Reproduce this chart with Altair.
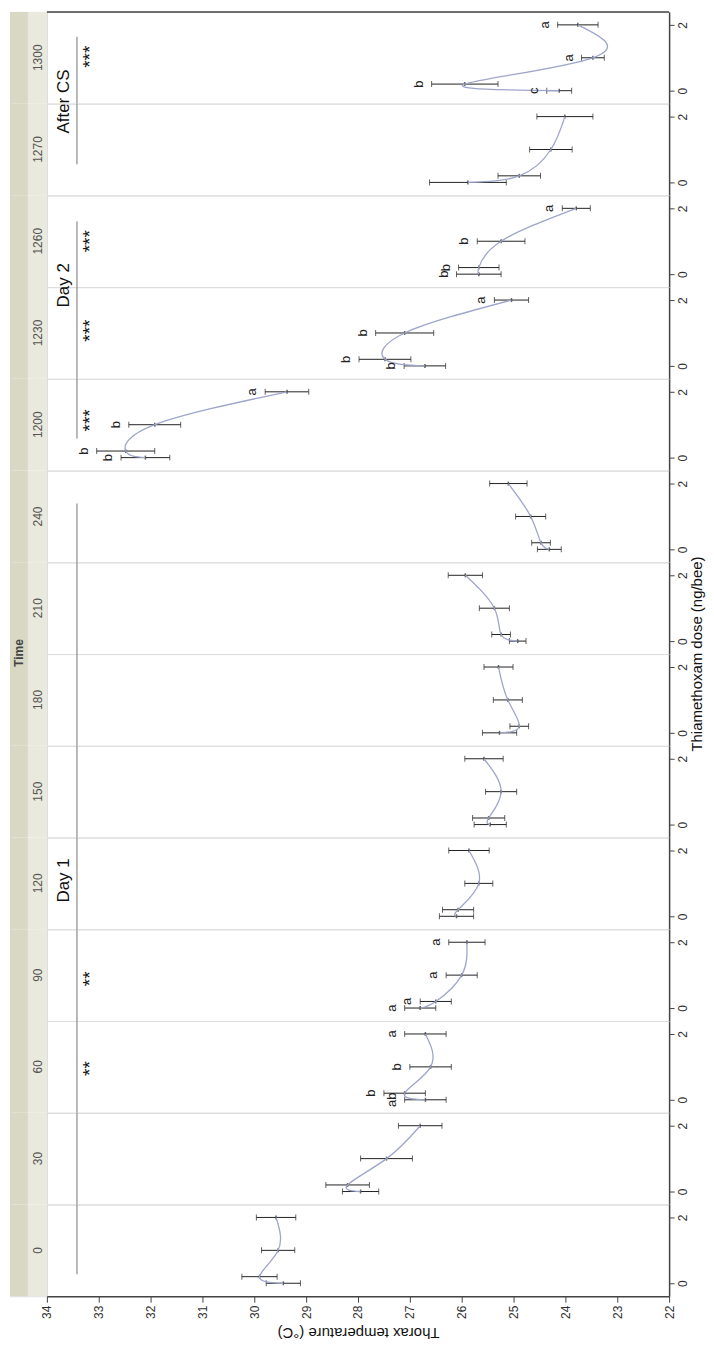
import altair as alt
import pandas as pd

# ---------------- data ----------------
times = ["0", "30", "60", "90", "120", "150", "180", "210", "240",
         "1200", "1230", "1260", "1270", "1300"]
doses = [0, 0.2, 1, 2]

means = {
    "0":    [29.44, 29.90, 29.54, 29.58],
    "30":   [27.95, 28.20, 27.45, 26.80],
    "60":   [26.70, 27.10, 26.60, 26.70],
    "90":   [26.80, 26.50, 26.00, 25.90],
    "120":  [26.10, 26.07, 25.67, 25.86],
    "150":  [25.45, 25.48, 25.24, 25.57],
    "180":  [25.27, 24.89, 25.11, 25.29],
    "210":  [24.92, 25.24, 25.37, 25.93],
    "240":  [24.31, 24.47, 24.67, 25.10],
    "1200": [32.10, 32.48, 31.92, 29.37],
    "1230": [26.71, 27.48, 27.10, 25.04],
    "1260": [25.67, 25.67, 25.24, 23.79],
    "1270": [25.88, 24.89, 24.28, 24.01],
    "1300": [24.12, 25.94, 23.47, 23.76],
}
errs = {
    "0":    [0.33, 0.34, 0.32, 0.38],
    "30":   [0.35, 0.42, 0.50, 0.42],
    "60":   [0.40, 0.40, 0.40, 0.40],
    "90":   [0.30, 0.30, 0.30, 0.35],
    "120":  [0.33, 0.30, 0.27, 0.39],
    "150":  [0.31, 0.31, 0.30, 0.37],
    "180":  [0.33, 0.18, 0.28, 0.28],
    "210":  [0.16, 0.18, 0.29, 0.33],
    "240":  [0.23, 0.18, 0.29, 0.36],
    "1200": [0.47, 0.56, 0.50, 0.42],
    "1230": [0.40, 0.50, 0.56, 0.33],
    "1260": [0.43, 0.39, 0.46, 0.27],
    "1270": [0.74, 0.41, 0.41, 0.54],
    "1300": [0.24, 0.64, 0.22, 0.39],
}
letters = {
    "60":   ["ab", "b", "b", "a"],
    "90":   ["a", "a", "a", "a"],
    "1200": ["b", "b", "b", "a"],
    "1230": ["b", "b", "b", "a"],
    "1260": ["b", "b", "b", "a"],
    "1300": ["c", "b", "a", "a"],
}

star_times = ["60", "90", "1200", "1230", "1260", "1300"]
star_texts = ["**", "**", "***", "***", "***", "***"]

day_labels = ["Day 1", "Day 2", "After CS"]
day_first = ["0", "1200", "1270"]
day_last = ["240", "1260", "1300"]

temp_ticks = [22 + 0.5 * i for i in range(25)]
dose_ticks = [0, 0.2, 1, 2]
dose_title = "Thiamethoxam dose (ng/bee)"
temp_title = "Thorax temperature (°C)"

# ---------------- annotation anchors (dose units inside a panel) ----------------
DLO, DHI = -0.394, 2.394
day_from = [0.27, 0.58, 0.55]
day_to = [1.39, 1.60, 1.64]
day_label_time = ["120", "1230", "1300"]
day_label_y = [1.09, 2.45, -0.33]
star_y = [0.95, 0.89, 1.13, 1.07, 1.00, 1.03]
LINE_T, LABEL_T, STAR_T = 33.42, 33.67, 33.16

rows = []
for t in times:
    for i, d in enumerate(doses):
        rows.append(dict(time=t, kind="pt", dose=d, mean=means[t][i],
                         err=errs[t][i], letter=letters.get(t, [""] * 4)[i]))
for k, lab in enumerate(day_labels):
    a, b = times.index(day_first[k]), times.index(day_last[k])
    for j in range(a, b + 1):
        rows.append(dict(time=times[j], kind="seg",
                         y1=day_from[k] if j == a else DLO,
                         y2=day_to[k] if j == b else DHI))
    rows.append(dict(time=day_label_time[k], kind="lab", ypos=day_label_y[k], txt=lab))
for t, s, y in zip(star_times, star_texts, star_y):
    rows.append(dict(time=t, kind="star", ypos=y, txt=s))
rows.append(dict(time="1300", kind="top"))
rows.append(dict(time="210", kind="dtitle", txt=dose_title))
df = pd.DataFrame(rows)

FONT = "Liberation Sans"
W, H = 624, 92

xs = alt.Scale(domain=[22, 34], reverse=True, nice=False, zero=False)
ys = alt.Scale(domain=[DLO, DHI], nice=False, zero=False)

x_axis = alt.Axis(values=temp_ticks, labelExpr="datum.value % 1 == 0 ? datum.label : ''",
                  tickSize={"condition": {"test": "datum.value % 1 != 0", "value": 3}, "value": 6},
                  labelAngle=270, labelFontSize=12, labelColor="#333", grid=False,
                  domainColor="#444", domainWidth=1.5, tickColor="#444",
                  title=temp_title, titleAngle=180, titleBaseline="bottom",
                  titleFontSize=15, titleFontWeight="normal", titleColor="#111",
                  titlePadding=6, labelPadding=3)
y_axis = alt.Axis(orient="right", values=dose_ticks,
                  labelExpr="datum.value == 0.2 ? '' : datum.label",
                  labelAngle=270, labelFontSize=12, labelColor="#333", grid=False,
                  domainColor="#444", domainWidth=1.5, tickColor="#444", tickSize=5,
                  title=None, labelPadding=3)


def panel(t, show_x):
    d = df[df["time"] == t]
    ox = {} if show_x else {"axis": None}
    base = alt.Chart(d)
    pts = base.transform_filter("datum.kind == 'pt'").transform_calculate(
        lo="datum.mean - datum.err", hi="datum.mean + datum.err")
    bars = pts.mark_rule(color="#222", strokeWidth=1).encode(
        x=alt.X("lo:Q", scale=xs, axis=x_axis if show_x else None),
        x2="hi:Q",
        y=alt.Y("dose:Q", scale=ys, axis=y_axis))
    caps = pts.transform_fold(["lo", "hi"], as_=["end", "v"]).mark_tick(
        orient="vertical", size=6, thickness=1, color="#222").encode(
        x=alt.X("v:Q", scale=xs, **ox), y=alt.Y("dose:Q", scale=ys))
    mid = pts.mark_tick(orient="vertical", size=4, thickness=1.5, color="#222").encode(
        x=alt.X("mean:Q", scale=xs, **ox), y=alt.Y("dose:Q", scale=ys))
    curve = pts.mark_line(interpolate="natural", color="#9ea5cb", strokeWidth=1.3).encode(
        x=alt.X("mean:Q", scale=xs, **ox), y=alt.Y("dose:Q", scale=ys),
        order="dose:Q")
    lets = pts.mark_text(angle=270, align="center", baseline="bottom", dy=-6,
                         fontSize=13, font=FONT, color="#222").encode(
        x=alt.X("hi:Q", scale=xs, **ox), y=alt.Y("dose:Q", scale=ys),
        text="letter:N")
    segs = base.transform_filter("datum.kind == 'seg'").mark_rule(
        color="#8a8a8a", strokeWidth=1.2).encode(
        x=alt.datum(LINE_T, scale=xs, **ox), y=alt.Y("y1:Q", scale=ys), y2="y2:Q")
    labs = base.transform_filter("datum.kind == 'lab'").mark_text(
        angle=270, align="center", baseline="middle", fontSize=17, font=FONT,
        color="#111").encode(
        x=alt.datum(LABEL_T, scale=xs, **ox), y=alt.Y("ypos:Q", scale=ys), text="txt:N")
    stars = base.transform_filter("datum.kind == 'star'").mark_text(
        angle=270, align="center", baseline="middle", fontSize=19, font=FONT,
        color="#111").encode(
        x=alt.datum(STAR_T, scale=xs, **ox), y=alt.Y("ypos:Q", scale=ys), text="txt:N")
    top = base.transform_filter("datum.kind == 'top'").mark_rule(
        color="#444", strokeWidth=1.5).encode(
        x=alt.value(0), x2=alt.value(W), y=alt.value(0))
    dtl = base.transform_filter("datum.kind == 'dtitle'").mark_text(
        angle=270, align="center", baseline="middle", fontSize=15, font=FONT,
        color="#111").encode(x=alt.value(W + 28), y=alt.value(H), text="txt:N")
    return alt.layer(bars, caps, mid, curve, lets, segs, labs, stars, top, dtl).properties(
        width=W, height=H)


rev_times = list(reversed(times))
main = alt.vconcat(*[panel(t, t == "0") for t in rev_times], spacing=0, bounds="flush")

# left header strip
strip_df = pd.DataFrame({"time": times})
sy = alt.Y("time:N", sort=rev_times, axis=None,
           scale=alt.Scale(paddingInner=0, paddingOuter=0))
strip_base = alt.Chart(strip_df)
dark = strip_base.mark_rect(color="#d9d8c5").encode(y=sy, x=alt.value(0), x2=alt.value(18))
light = strip_base.mark_rect(color="#e9e9de").encode(y=sy, x=alt.value(18), x2=alt.value(37))
tlab = strip_base.mark_text(angle=270, align="center", baseline="middle", fontSize=12,
                            font=FONT, color="#555").encode(
    y=sy, x=alt.value(28), text="time:N")
ttl = alt.Chart(pd.DataFrame({"t": ["Time"]})).mark_text(
    angle=270, align="center", baseline="middle", fontSize=12, fontWeight="bold",
    font=FONT, color="#444").encode(x=alt.value(9), y=alt.value(643), text="t:N")
strip = alt.layer(dark, light, tlab, ttl).properties(width=37, height=H * len(times))

chart = alt.hconcat(strip, main, spacing=0, bounds="flush").properties(
    padding={"left": 1, "top": 0, "right": 0, "bottom": 0}
).configure_view(stroke="#d7d7d7", strokeWidth=1.5).configure(font=FONT)

chart.save("out.html", embed_options={"renderer": "svg", "actions": False})
